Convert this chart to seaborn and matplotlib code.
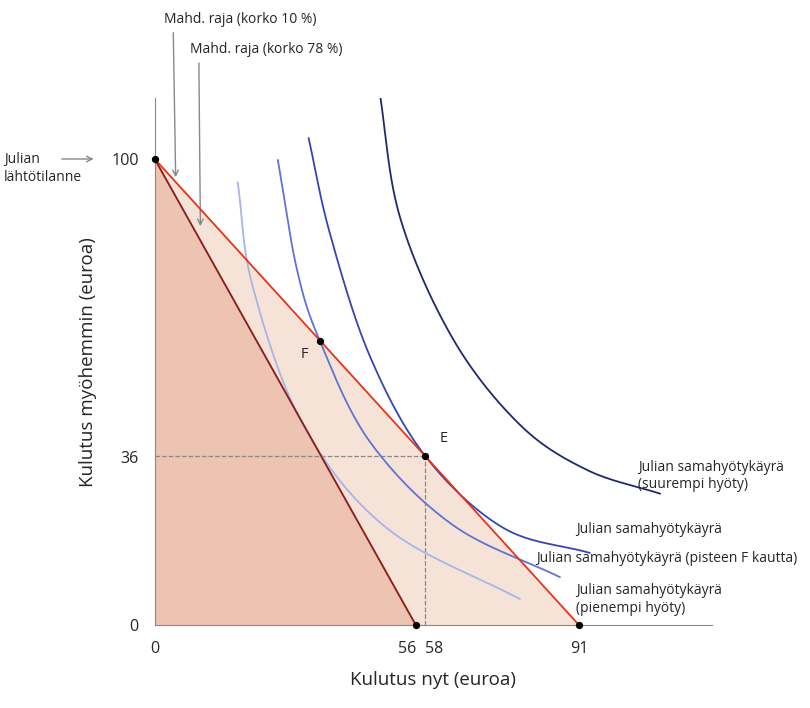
import numpy as np
import pandas as pd
import matplotlib
matplotlib.use("Agg")
import matplotlib.pyplot as plt
import seaborn as sns

sns.set_style("white")
plt.rcParams["font.family"] = "Open Sans"

# budget lines
budget_10 = pd.DataFrame({"x": [0, 91], "y": [100, 0]})
budget_78 = pd.DataFrame({"x": [0, 56], "y": [100, 0]})

# indifference curves
curve_high_x = [48.1, 52.6, 63.9, 78.3, 92.7, 108.4]
curve_high_y = [115.2, 87.5, 61.5, 43.0, 33.3, 28.2]
curve_e_x = [33.0, 37.6, 46.1, 58.0, 74.7, 93.3]
curve_e_y = [104.5, 83.9, 57.8, 36.3, 20.9, 15.5]
curve_f_x = [26.4, 30.5, 35.4, 46.1, 63.9, 86.9]
curve_f_y = [99.8, 76.3, 61.0, 39.4, 21.5, 10.3]
curve_low_x = [17.8, 21.0, 31.8, 49.8, 78.3]
curve_low_y = [95.0, 72.7, 43.0, 20.8, 5.6]

x_ticks = [0, 56, 58, 91]
y_ticks = [0, 36, 100]


def catmull(xs, ys, n=40):
    p = np.column_stack([xs, ys]).astype(float)
    p = np.vstack([2 * p[0] - p[1], p, 2 * p[-1] - p[-2]])
    out = []
    t = np.linspace(0, 1, n)[:, None]
    for i in range(1, len(p) - 2):
        p0, p1, p2, p3 = p[i - 1], p[i], p[i + 1], p[i + 2]
        seg = 0.5 * ((2 * p1) + (-p0 + p2) * t + (2 * p0 - 5 * p1 + 4 * p2 - p3) * t ** 2
                     + (-p0 + 3 * p1 - 3 * p2 + p3) * t ** 3)
        out.append(seg)
    s = np.vstack(out)
    return s[:, 0], s[:, 1]


fig = plt.figure(figsize=(8.1, 7.08), dpi=100)
ax = fig.add_axes([0.191, 0.117, 0.688, 0.744])

ax.fill_between(budget_10["x"], budget_10["y"], color="#f6e3d8", zorder=0)
ax.fill_between(budget_78["x"], budget_78["y"], color="#edc3b1", zorder=1)

for xs, ys, col in [(curve_high_x, curve_high_y, "#1f2a6e"),
                    (curve_e_x, curve_e_y, "#3447b0"),
                    (curve_f_x, curve_f_y, "#5f74d2"),
                    (curve_low_x, curve_low_y, "#a8b4e8")]:
    sx, sy = catmull(xs, ys)
    sns.lineplot(x=sx, y=sy, sort=False, color=col, lw=1.3, ax=ax, zorder=3)

sns.lineplot(data=budget_10, x="x", y="y", color="#e8341c", lw=1.3, ax=ax, zorder=4)
sns.lineplot(data=budget_78, x="x", y="y", color="#8b1a1a", lw=1.3, ax=ax, zorder=4)

ax.plot([0, 58], [36.3, 36.3], ls="--", color="#888888", lw=0.9, zorder=2)
ax.plot([58, 58], [0, 36.3], ls="--", color="#888888", lw=0.9, zorder=2)

pts_x = [0, 56, 91, 35.4, 58]
pts_y = [100, 0, 0, 61, 36.3]
ax.scatter(pts_x, pts_y, color="black", s=18, zorder=6, clip_on=False)
ax.text(33, 58, "F", fontsize=10.5, ha="right", va="center")
ax.text(61, 38.5, "E", fontsize=10.5, ha="left", va="bottom")

ax.set_xlim(0, 119.5)
ax.set_ylim(0, 113)
ax.set_xticks(x_ticks)
ax.set_xticklabels(["0", "56", "58", "91"], fontsize=11.5)
ax.set_yticks(y_ticks)
ax.set_yticklabels(["0", "36", "100"], fontsize=11.5)
ax.tick_params(length=8, color="#888888", direction="out")
ax.get_xticklabels()[1].set_ha("right")
ax.get_xticklabels()[2].set_ha("left")
for s in ["top", "right"]:
    ax.spines[s].set_visible(False)
for s in ["left", "bottom"]:
    ax.spines[s].set_color("#888888")
ax.set_xlabel("Kulutus nyt (euroa)", fontsize=13.5, labelpad=10)
ax.set_ylabel("Kulutus myöhemmin (euroa)", fontsize=13.5, labelpad=10)

labels = [(103.7, 32, "Julian samahyötykäyrä\n(suurempi hyöty)"),
          (90.3, 20.5, "Julian samahyötykäyrä"),
          (81.8, 14.3, "Julian samahyötykäyrä (pisteen F kautta)"),
          (90.3, 5.5, "Julian samahyötykäyrä\n(pienempi hyöty)")]
for lx, ly, t in labels:
    ax.text(lx, ly, t, fontsize=10, va="center")

gray = "#888888"
ax.text(-32.3, 100, "Julian", fontsize=10, va="center", ha="left")
ax.text(-32.3, 96, "lähtötilanne", fontsize=10, va="center", ha="left")
ax.annotate("", xy=(-12.5, 100), xytext=(-20.5, 100), annotation_clip=False,
            arrowprops=dict(arrowstyle="->", color=gray, lw=1))
ax.annotate("Mahd. raja (korko 10 %)", xy=(4.5, 95.5), xytext=(2, 130),
            fontsize=10, ha="left", va="center", annotation_clip=False,
            arrowprops=dict(arrowstyle="->", color=gray, lw=1,
                            relpos=(0.06, 0)))
ax.annotate("Mahd. raja (korko 78 %)", xy=(9.8, 85), xytext=(7.5, 123.5),
            fontsize=10, ha="left", va="center", annotation_clip=False,
            arrowprops=dict(arrowstyle="->", color=gray, lw=1,
                            relpos=(0.06, 0)))

fig.savefig("out.png", dpi=100)
